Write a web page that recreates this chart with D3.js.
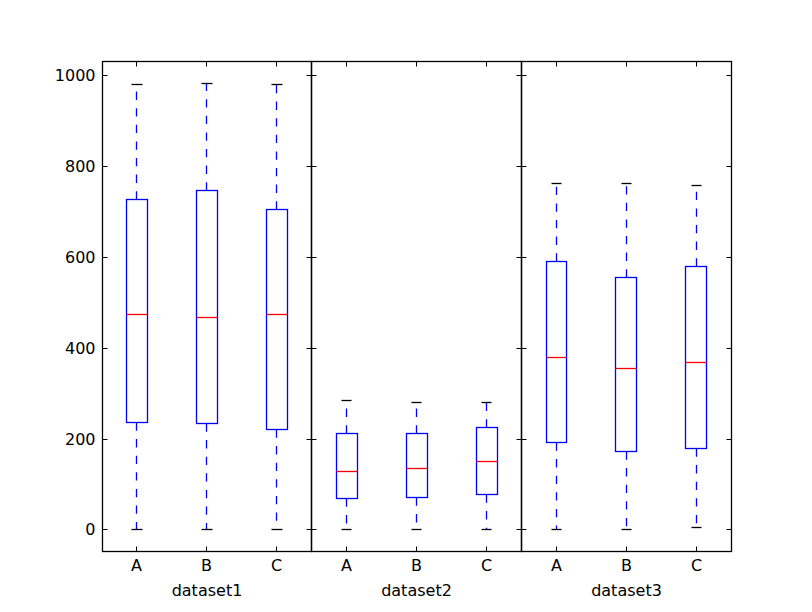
<!DOCTYPE html>
<html>
<head>
<meta charset="utf-8">
<script src="https://cdn.jsdelivr.net/npm/d3@7/dist/d3.min.js"></script>
<style>
  html, body { margin: 0; padding: 0; background: #fff; }
  svg { display: block; }
  text { font-family: "DejaVu Sans", sans-serif; }
</style>
</head>
<body>
<svg id="chart" width="812" height="612"></svg>
<script>
// ---- Data ----
const categories = ["A", "B", "C"];
const datasets = ["dataset1", "dataset2", "dataset3"];
// per dataset: values for A, B, C
const whiskerLow = [[2, 2, 2], [2, 2, 2], [2, 2, 5]];
const quartile1  = [[236.5, 234, 221], [70, 72, 79], [192, 172, 180]];
const medians    = [[474, 467, 475], [129, 136, 151], [380, 356, 369]];
const quartile3  = [[727, 746.5, 706], [212, 213, 226], [590, 556, 581]];
const whiskerHigh= [[980, 982, 980], [284, 281, 281], [762, 762, 758]];
const yTicks = [0, 200, 400, 600, 800, 1000];

// ---- Layout ----
const figW = 812, figH = 612;
const plotLeft = 0.125 * figW, plotRight = 0.9 * figW, plotTop = 0.1 * figH, plotBottom = 0.9 * figH;
const snap = v => Math.round(v) + 0.5;
const LW = 1.3;

const svg = d3.select("#chart");

const lo = d3.min(whiskerLow.flat()), hi = d3.max(whiskerHigh.flat());
const pad = 0.05 * (hi - lo);
const y = d3.scaleLinear().domain([lo - pad, hi + pad]).range([plotBottom, plotTop]);

const panelScale = d3.scaleBand().domain(datasets).range([plotLeft, plotRight]);

datasets.forEach((ds, di) => {
  const x0 = snap(panelScale(ds)), x1 = snap(panelScale(ds) + panelScale.bandwidth());
  const yTop = snap(plotTop), yBot = snap(plotBottom);
  const x = d3.scalePoint().domain(categories).range([panelScale(ds), panelScale(ds) + panelScale.bandwidth()]).padding(0.5);
  const boxW = 0.3 * x.step();
  const capW = 0.5 * boxW;
  const g = svg.append("g");

  // axes (inward ticks on all sides)
  const yl = d3.axisLeft(y).tickValues(yTicks).tickSize(-5).tickPadding(7).tickFormat(d3.format("d"));
  if (di !== 0) yl.tickFormat("");
  const gyl = g.append("g").attr("transform", `translate(${x0},0)`).call(yl);
  const gyr = g.append("g").attr("transform", `translate(${x1},0)`)
    .call(d3.axisRight(y).tickValues(yTicks).tickSize(-5).tickFormat(""));
  const gxt = g.append("g").attr("transform", `translate(0,${yTop})`)
    .call(d3.axisTop(x).tickSize(-5).tickFormat(""));
  const gxb = g.append("g").attr("transform", `translate(0,${yBot})`)
    .call(d3.axisBottom(x).tickSize(-5).tickPadding(8));
  [gyl, gyr].forEach(a => a.selectAll(".tick").attr("transform", d => `translate(0,${snap(y(d))})`));
  [gxt, gxb].forEach(a => a.selectAll(".tick").attr("transform", d => `translate(${snap(x(d))},0)`));
  [gyl, gyr, gxt, gxb].forEach(a => {
    a.select(".domain").remove();
    a.selectAll("line").attr("stroke", "#000").attr("stroke-width", 1);
    a.selectAll("text").attr("font-size", 16).attr("fill", "#000")
      .attr("font-family", "DejaVu Sans, sans-serif");
  });

  // boxes
  categories.forEach((c, ci) => {
    const cx = snap(x(c));
    const bx0 = snap(x(c) - boxW / 2), bx1 = snap(x(c) + boxW / 2);
    const bg = g.append("g");
    // whiskers (dashed)
    bg.append("line").attr("x1", cx).attr("x2", cx)
      .attr("y1", snap(y(quartile3[di][ci]))).attr("y2", snap(y(whiskerHigh[di][ci])))
      .attr("stroke", "#0000ff").attr("stroke-width", LW).attr("stroke-dasharray", "8.3,8.3");
    bg.append("line").attr("x1", cx).attr("x2", cx)
      .attr("y1", snap(y(quartile1[di][ci]))).attr("y2", snap(y(whiskerLow[di][ci])))
      .attr("stroke", "#0000ff").attr("stroke-width", LW).attr("stroke-dasharray", "8.3,8.3");
    // caps
    [whiskerHigh[di][ci], whiskerLow[di][ci]].forEach(v => {
      bg.append("line").attr("x1", snap(x(c) - capW / 2)).attr("x2", snap(x(c) + capW / 2))
        .attr("y1", snap(y(v))).attr("y2", snap(y(v)))
        .attr("stroke", "#000").attr("stroke-width", LW);
    });
    // box
    const by0 = snap(y(quartile3[di][ci])), by1 = snap(y(quartile1[di][ci]));
    bg.append("rect").attr("x", bx0).attr("width", bx1 - bx0)
      .attr("y", by0).attr("height", by1 - by0)
      .attr("fill", "none").attr("stroke", "#0000ff").attr("stroke-width", LW);
    // median
    const my = snap(y(medians[di][ci]));
    bg.append("line").attr("x1", bx0).attr("x2", bx1)
      .attr("y1", my).attr("y2", my)
      .attr("stroke", "#ff0000").attr("stroke-width", LW);
  });

  // frame
  g.append("rect").attr("x", x0).attr("y", yTop).attr("width", x1 - x0).attr("height", yBot - yTop)
    .attr("fill", "none").attr("stroke", "#000").attr("stroke-width", LW);

  // dataset label
  g.append("text").attr("x", (x0 + x1) / 2).attr("y", 595.7)
    .attr("text-anchor", "middle").attr("font-size", 16).attr("fill", "#000")
    .text(ds);
});
</script>
</body>
</html>
